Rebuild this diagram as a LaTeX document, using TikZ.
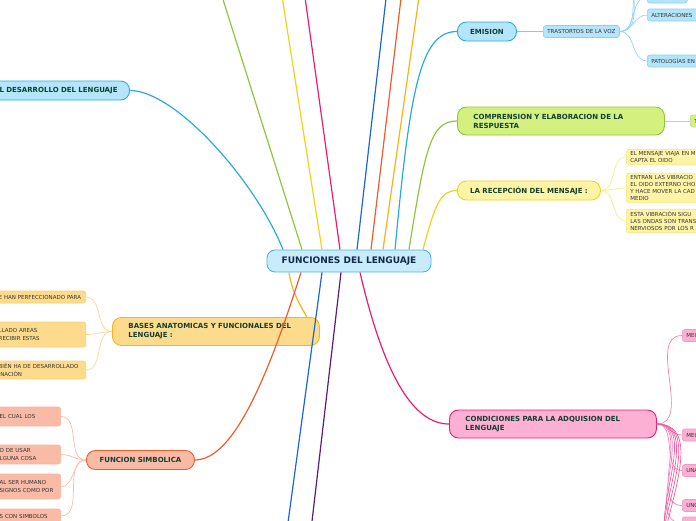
\documentclass[tikz,border=0pt]{standalone}
\usepackage{fontspec}
\setmainfont{DejaVu Sans}
\usepackage{tikz}
\usetikzlibrary{calc}
\usepackage{xcolor}
\definecolor{skyline}{HTML}{29ABE2}
\definecolor{skyfill}{HTML}{B5E5FA}
\definecolor{hubline}{HTML}{4DB3E6}
\definecolor{hubfill}{HTML}{C9ECFC}
\definecolor{limeline}{HTML}{8DC63F}
\definecolor{limefill}{HTML}{D4F07F}
\definecolor{sunline}{HTML}{F2D216}
\definecolor{sunfill}{HTML}{FFF4A6}
\definecolor{roseline}{HTML}{EE1B74}
\definecolor{rosefill}{HTML}{FDB0D3}
\definecolor{royalline}{HTML}{1A66D9}
\definecolor{coralline}{HTML}{F15A29}
\definecolor{coralfill}{HTML}{F9BBA6}
\definecolor{amberline}{HTML}{FBB117}
\definecolor{amberfill}{HTML}{FDDB8C}
\definecolor{plumline}{HTML}{5B1A7E}
\definecolor{inktext}{HTML}{123F33}
\definecolor{navytext}{HTML}{13294B}

\begin{document}
\begin{tikzpicture}[
        x=1pt, y=-1pt,
        every node/.style={font=\fontsize{5.5}{7.2}\selectfont, text=black!80},
        hub/.style={draw=hubline, line width=0.9pt, fill=hubfill, rounded corners=8pt, minimum width=164pt, minimum height=22pt, font=\bfseries\fontsize{9}{11}\selectfont, text=navytext},
        topic/.style={line width=0.9pt, rounded corners=9pt, minimum height=19pt, inner xsep=12pt, font=\bfseries\fontsize{7}{9}\selectfont, text=inktext},
        widetopic/.style={topic, text width=175pt, align=left, inner xsep=16pt, minimum height=28pt},
        leaf/.style={line width=0.6pt, rounded corners=2.5pt, inner xsep=4pt, inner ysep=2pt, minimum height=12pt},
        rightleaf/.style={leaf, anchor=west, text width=80pt, align=left},
        leftleaf/.style={leaf, anchor=east, align=left},
        branch/.style={line width=1.2pt},
        twig/.style={line width=0.7pt}
    ]
        \useasboundingbox (0,0) rectangle (696,520);
        \clip (0,0) rectangle (696,520);

        \node[hub] (lenguaje) at (349,261) {FUNCIONES DEL LENGUAJE};

        \node[topic, draw=skyline, fill=skyfill, anchor=east, text width=140pt, align=right] (desarrollo) at (130,90.5) {L DESARROLLO DEL LENGUAJE};
        \node[topic, draw=skyline, fill=skyfill, anchor=west, minimum width=59pt] (emision) at (457,31.5) {EMISION};
        \node[widetopic, draw=limeline, fill=limefill, anchor=west] (comprension) at (457,121) {COMPRENSION Y ELABORACION DE LA\\RESPUESTA};
        \node[topic, draw=sunline, fill=sunfill, anchor=west, minimum width=143pt] (recepcion) at (457,190.5) {LA RECEPCIÓN DEL MENSAJE :};
        \node[widetopic, draw=amberline, fill=amberfill, anchor=west] (bases) at (112,331.5) {BASES ANATOMICAS Y FUNCIONALES DEL\\LENGUAJE :};
        \node[topic, draw=coralline, fill=coralfill, anchor=west, minimum width=108pt] (simbolica) at (86,460) {FUNCION SIMBOLICA};
        \node[widetopic, draw=roseline, fill=rosefill, anchor=west] (condiciones) at (449,424) {CONDICIONES PARA LA ADQUISION DEL\\LENGUAJE};

        % emision
        \node[leaf, draw=skyline!55, fill=skyfill, anchor=west] (trastortos) at (543,31.5) {TRASTORTOS DE LA VOZ};
        \node[rightleaf, draw=skyline!55, fill=skyfill, text width=32pt] (voztop) at (647,-3) {};
        \node[rightleaf, draw=skyline!55, fill=skyfill] (alteraciones) at (647,15) {ALTERACIONES};
        \node[rightleaf, draw=skyline!55, fill=skyfill] (patologias) at (647,61) {PATOLOGÍAS EN};
        \coordinate (vozhiddenA) at (647,-26);
        \coordinate (vozhiddenB) at (647,-50);

        % comprension
        \node[rightleaf, draw=limeline!60, fill=limefill] (respuestaleaf) at (690,121) {T};

        % recepcion
        \node[rightleaf, draw=sunline!55, fill=sunfill] (viajaleaf) at (626,157) {EL MENSAJE VIAJA EN M\\CAPTA EL OIDO};
        \node[rightleaf, draw=sunline!55, fill=sunfill] (vibraleaf) at (626,188) {ENTRAN LAS VIBRACIO\\EL OIDO EXTERNO CHO\\Y HACE MOVER LA CAD\\MEDIO};
        \node[rightleaf, draw=sunline!55, fill=sunfill] (ondasleaf) at (626,221) {ESTA VIBRACIÓN SIGU\\LAS ONDAS SON TRANS\\NERVIOSOS POR LOS R};

        % bases
        \node[leftleaf, draw=amberline!60, fill=amberfill, text width=83pt] (perfecleaf) at (86,297) {E HAN PERFECCIONADO PARA};
        \node[leftleaf, draw=amberline!60, fill=amberfill, text width=83pt, minimum height=25pt] (areasleaf) at (86,334.5) {LLADO AREAS\\RECIBIR ESTAS};
        \node[leftleaf, draw=amberline!60, fill=amberfill, text width=83pt, minimum height=18pt] (desarrolleaf) at (86,370) {BIÉN HA DE DESARROLLADO\\INACIÓN};

        % simbolica
        \node[leftleaf, draw=coralline!45, fill=coralfill, text width=57pt, minimum height=19pt] (cualleaf) at (61,416.5) {EL CUAL LOS};
        \node[leftleaf, draw=coralline!45, fill=coralfill, text width=57pt, minimum height=19pt] (usarleaf) at (61,454.5) {O DE USAR\\LGUNA COSA};
        \node[leftleaf, draw=coralline!45, fill=coralfill, text width=57pt, minimum height=25pt] (humanoleaf) at (61,486.5) {AL SER HUMANO\\SIGNOS COMO POR};
        \node[leftleaf, draw=coralline!45, fill=coralfill, text width=57pt, minimum height=14pt] (simbololeaf) at (61,516) {S CON SIMBOLOS};

        % condiciones
        \node[rightleaf, draw=roseline!45, fill=rosefill] (mecA) at (682,335.5) {MEC};
        \node[rightleaf, draw=roseline!45, fill=rosefill] (mecB) at (682,435) {MEC};
        \node[rightleaf, draw=roseline!45, fill=rosefill] (unaleaf) at (682,470.5) {UNA};
        \node[rightleaf, draw=roseline!45, fill=rosefill] (unoleaf) at (682,505.5) {UNO};
        \node[rightleaf, draw=roseline!45, fill=rosefill] (lowleaf) at (682,523) {};
        \coordinate (lowA) at (682,545);
        \coordinate (lowB) at (682,565);
        \coordinate (lowC) at (682,585);
        \coordinate (lowD) at (682,605);

        % branches leaving the picture
        \coordinate (upgreen) at (220,-10);
        \coordinate (upyellow) at (281,-10);
        \coordinate (uppink) at (304,-10);
        \coordinate (upblue) at (387,-10);
        \coordinate (upcoral) at (402,-10);
        \coordinate (upamber) at (420,-10);
        \coordinate (downblue) at (287,530);
        \coordinate (downplum) at (311,530);

        \draw[branch, limeline] ([xshift=-47pt]lenguaje.north) -- (upgreen);
        \draw[branch, sunline] ([xshift=-27pt]lenguaje.north) -- (upyellow);
        \draw[branch, roseline] ([xshift=-9pt]lenguaje.north) -- (uppink);
        \draw[branch, royalline] ([xshift=8pt]lenguaje.north) -- (upblue);
        \draw[branch, coralline] ([xshift=22pt]lenguaje.north) -- (upcoral);
        \draw[branch, amberline] ([xshift=34pt]lenguaje.north) -- (upamber);
        \draw[branch, royalline] ([xshift=-27pt]lenguaje.south) -- (downblue);
        \draw[branch, plumline] ([xshift=-8pt]lenguaje.south) -- (downplum);

        \draw[branch, skyline] ([xshift=-66pt]lenguaje.north) .. controls (255,180) and (175,90.5) .. (desarrollo.east);
        \draw[branch, skyline] ([xshift=46pt]lenguaje.north) .. controls (410,90) and (420,31.5) .. (emision.west);
        \draw[branch, limeline] ([xshift=60pt]lenguaje.north) .. controls (425,150) and (430,121) .. (comprension.west);
        \draw[branch, sunline] ([xshift=74pt]lenguaje.north) .. controls (435,205) and (440,190.5) .. (recepcion.west);
        \draw[branch, amberline] ([xshift=-60pt]lenguaje.south) .. controls (292,292) and (300,305) .. ([xshift=-13pt]bases.north east);
        \draw[branch, coralline] ([xshift=-48pt]lenguaje.south) .. controls (270,370) and (235,460) .. (simbolica.east);
        \draw[branch, roseline] ([xshift=11pt]lenguaje.south) .. controls (385,380) and (415,424) .. (condiciones.west);

        \draw[twig, skyline!60] (emision.east) -- (trastortos.west);
        \draw[twig, skyline!50] (trastortos.east) to[out=0, in=180] (voztop.west);
        \draw[twig, skyline!50] (trastortos.east) to[out=0, in=180] (vozhiddenA);
        \draw[twig, skyline!50] (trastortos.east) to[out=0, in=180] (vozhiddenB);
        \draw[twig, skyline!50] (trastortos.east) to[out=0, in=180] (alteraciones.west);
        \draw[twig, skyline!50] (trastortos.east) to[out=0, in=180] (patologias.west);

        \draw[twig, limeline!60] (comprension.east) -- (respuestaleaf.west);

        \draw[twig, sunline!50] (recepcion.east) to[out=0, in=180] (viajaleaf.west);
        \draw[twig, sunline!50] (recepcion.east) to[out=0, in=180] (vibraleaf.west);
        \draw[twig, sunline!50] (recepcion.east) to[out=0, in=180] (ondasleaf.west);

        \draw[twig, amberline!50] (bases.west) to[out=180, in=0] (perfecleaf.east);
        \draw[twig, amberline!50] (bases.west) to[out=180, in=0] (areasleaf.east);
        \draw[twig, amberline!50] (bases.west) to[out=180, in=0] (desarrolleaf.east);

        \draw[twig, coralline!40] (simbolica.west) to[out=180, in=0] (cualleaf.east);
        \draw[twig, coralline!40] (simbolica.west) to[out=180, in=0] (usarleaf.east);
        \draw[twig, coralline!40] (simbolica.west) to[out=180, in=0] (humanoleaf.east);
        \draw[twig, coralline!40] (simbolica.west) to[out=180, in=0] (simbololeaf.east);

        \draw[twig, roseline!55] (condiciones.east) to[out=0, in=180] (mecA.west);
        \draw[twig, roseline!55] (condiciones.east) to[out=0, in=180] (mecB.west);
        \draw[twig, roseline!55] (condiciones.east) to[out=0, in=180] (unaleaf.west);
        \draw[twig, roseline!55] (condiciones.east) to[out=0, in=180] (unoleaf.west);
        \draw[twig, roseline!55] (condiciones.east) to[out=0, in=180] (lowleaf.west);
        \draw[twig, roseline!70] (condiciones.east) to[out=0, in=180] (lowA);
        \draw[twig, roseline!70] (condiciones.east) to[out=0, in=180] (lowB);
        \draw[twig, roseline!70] (condiciones.east) to[out=0, in=180] (lowC);
        \draw[twig, roseline!70] (condiciones.east) to[out=0, in=180] (lowD);
    \end{tikzpicture}
\end{document}
